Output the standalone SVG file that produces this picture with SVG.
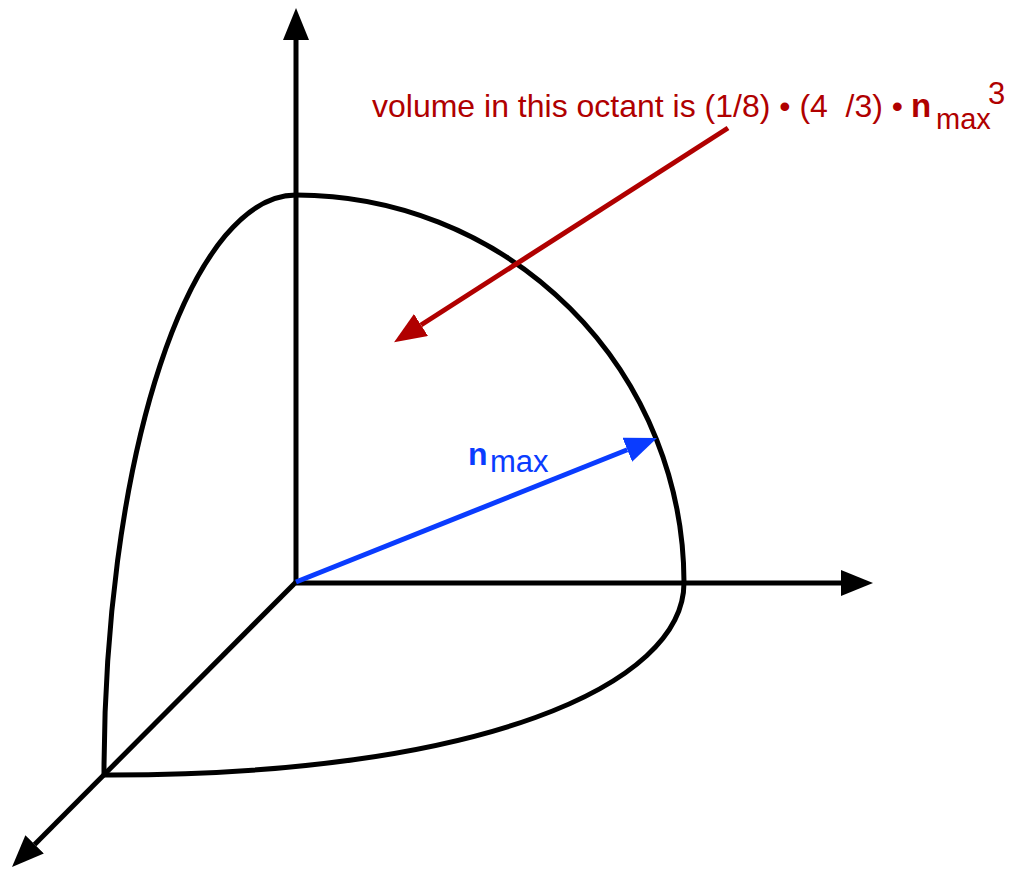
<svg xmlns="http://www.w3.org/2000/svg" width="1017" height="871" viewBox="0 0 1017 871">
<style>
.ax{stroke:#000;stroke-width:5;fill:none}
.outline{stroke:#000;stroke-width:5;fill:none}
.t{font-family:"Liberation Sans",Arial,sans-serif}
.red{fill:#B00000}
.blue{fill:#0A3CFF}
</style>
<defs>
<marker id="hk" markerUnits="userSpaceOnUse" viewBox="0 0 32 26" markerWidth="32" markerHeight="26" refX="0" refY="13" orient="auto"><path d="M0,0 L32,13 L0,26 Z" fill="#000"/></marker>
<marker id="hr" markerUnits="userSpaceOnUse" viewBox="0 0 32 26" markerWidth="32" markerHeight="26" refX="0" refY="13" orient="auto"><path d="M0,0 L32,13 L0,26 Z" fill="#B00000"/></marker>
<marker id="hb" markerUnits="userSpaceOnUse" viewBox="0 0 32 26" markerWidth="32" markerHeight="26" refX="0" refY="13" orient="auto"><path d="M0,0 L32,13 L0,26 Z" fill="#0A3CFF"/></marker>
</defs>
<g id="octant">
<path class="outline" d="M104,775 A192,580 0 0 1 296,195 A388,388 0 0 1 684,582 C685,685 480,776 104,775 Z"/>
</g>
<g id="connectors">
<line class="ax" x1="296" y1="582" x2="296" y2="40" marker-end="url(#hk)"/>
<line class="ax" x1="296" y1="583" x2="841" y2="583" marker-end="url(#hk)"/>
<line class="ax" x1="296" y1="582" x2="34.6" y2="844.4" marker-end="url(#hk)"/>
<line x1="728" y1="128" x2="421" y2="325" stroke="#B00000" stroke-width="5" marker-end="url(#hr)"/>
<line x1="296" y1="582" x2="627.3" y2="449.8" stroke="#0A3CFF" stroke-width="5" marker-end="url(#hb)"/>
</g>
<g id="volume-label" class="t red">
<text x="372" y="117" font-size="32" xml:space="preserve">volume in this octant is (1/8) • (4  /3) •</text>
<text x="911" y="117" font-size="33"><tspan font-weight="bold">n</tspan><tspan x="936" y="129" font-size="29">max</tspan><tspan x="988" y="104" font-size="31">3</tspan></text>
</g>
<g id="nmax-label" class="t blue">
<text x="468" y="465" font-size="32"><tspan font-weight="bold">n</tspan><tspan x="490" y="472" font-size="31">max</tspan></text>
</g>
</svg>
